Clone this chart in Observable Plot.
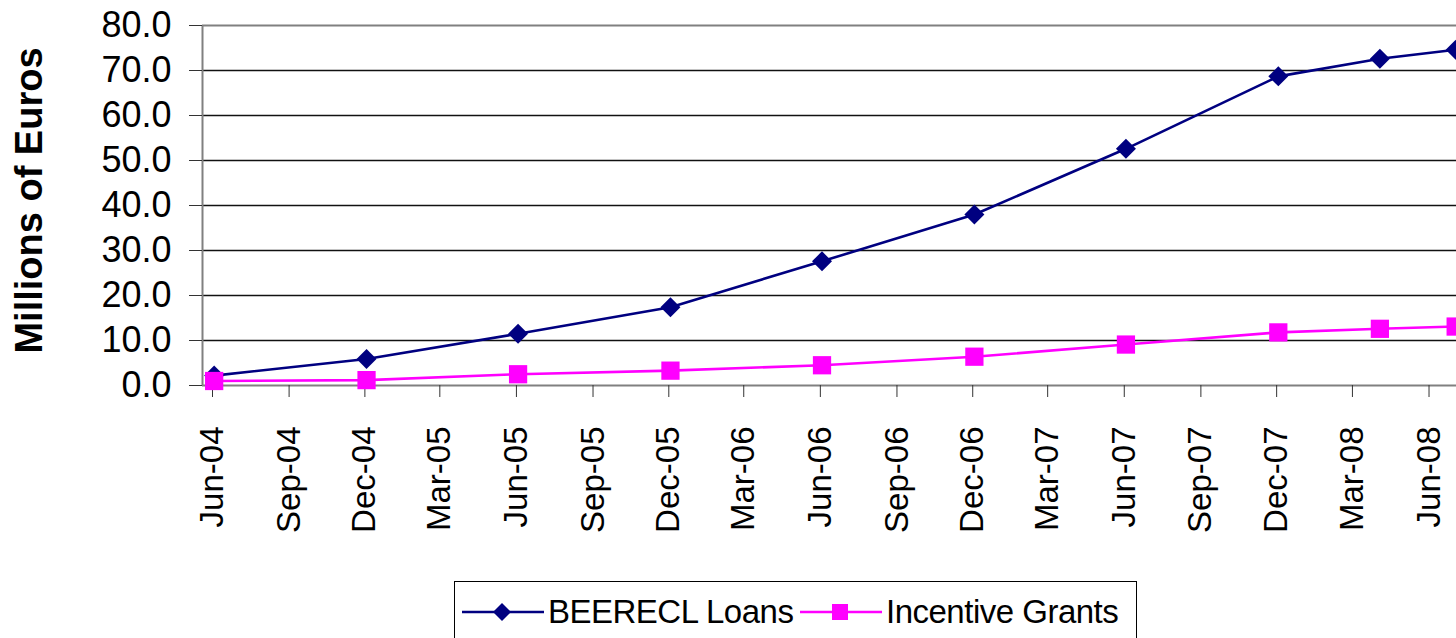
<!DOCTYPE html>
<html>
<head>
<meta charset="utf-8">
<script src="https://cdn.jsdelivr.net/npm/d3@7"></script>
<script src="https://cdn.jsdelivr.net/npm/@observablehq/plot@0.6"></script>
<style>
  html, body { margin: 0; padding: 0; background: #fff; overflow: hidden; }
  #wrap { position: relative; width: 1456px; height: 638px; }
  #legend {
    position: absolute; left: 454px; top: 581px; width: 683px; height: 70px;
    border: 1.5px solid #000; box-sizing: border-box; background: #fff;
    font-family: "Liberation Sans Narrow", "Liberation Sans", Arial, sans-serif;
    font-size: 33px; color: #000;
  }
  .item { position: absolute; top: 12px; display: flex; align-items: center; height: 36px; }
  .item span { margin-left: 4px; white-space: nowrap; letter-spacing: -0.5px; }
</style>
</head>
<body>
<div id="wrap">
  <div id="chart"></div>
  <div id="legend"></div>
</div>
<script>
// ---- data ----
const tickLabels = ["Jun-04","Sep-04","Dec-04","Mar-05","Jun-05","Sep-05","Dec-05","Mar-06",
                    "Jun-06","Sep-06","Dec-06","Mar-07","Jun-07","Sep-07","Dec-07","Mar-08","Jun-08"];
const pointDates = ["2004-06-15","2004-12-15","2005-06-15","2005-12-15","2006-06-15",
                    "2006-12-15","2007-06-15","2007-12-15","2008-04-15","2008-07-15"];
const loansValues  = [2.2, 5.9, 11.5, 17.4, 27.6, 38.0, 52.6, 68.7, 72.6, 74.6];
const grantsValues = [1.0, 1.2, 2.5, 3.3, 4.5, 6.4, 9.1, 11.8, 12.6, 13.1];
const yTicks = [0, 10, 20, 30, 40, 50, 60, 70, 80];
const seriesNames = ["BEERECL Loans", "Incentive Grants"];
const yTitle = "Millions of Euros";

// ---- build ----
const parseTick = d3.utcParse("%b-%y");
const tickDates = tickLabels.map(parseTick);
const dates = pointDates.map(d => d3.utcParse("%Y-%m-%d")(d));
const loans = dates.map((d, i) => ({date: d, value: loansValues[i]}));
const grants = dates.map((d, i) => ({date: d, value: grantsValues[i]}));
const labelOf = new Map(tickDates.map((d, i) => [+d, tickLabels[i]]));

const navy = "#000080", pink = "#FF00FF";
const font = "Liberation Sans, Arial, sans-serif";

const chart = Plot.plot({
  width: 1456,
  height: 575,
  marginLeft: 202,
  marginRight: 0,
  marginTop: 25,
  marginBottom: 190,
  style: {fontFamily: font, background: "#fff", color: "#000", overflow: "visible"},
  x: {type: "utc", domain: [new Date(Date.UTC(2004, 5, 1)), new Date(Date.UTC(2008, 6, 16))]},
  y: {domain: [0, 80]},
  marks: [
    Plot.gridY(yTicks.filter(t => t > 0 && t < 80), {stroke: "#111", strokeOpacity: 1, strokeWidth: 1.6}),
    Plot.ruleY([80], {stroke: "#808080", strokeWidth: 2}),
    Plot.ruleY([0], {stroke: "#808080", strokeWidth: 2}),
    Plot.ruleX([new Date(Date.UTC(2004, 5, 1))], {stroke: "#808080", strokeWidth: 2}),
    Plot.axisY({ticks: yTicks, tickFormat: d => d.toFixed(1), tickSize: 13, tickPadding: 18,
                fontSize: 36, stroke: "#333", label: null}),
    Plot.axisX({ticks: tickDates, tickFormat: d => labelOf.get(+d), tickRotate: -90,
                tickSize: 12, tickPadding: 29, fontSize: 33, stroke: "#333", dx: 10, label: null}),
    Plot.text([yTitle], {frameAnchor: "left", textAnchor: "middle", rotate: -90, dx: -173, dy: -5,
                fontSize: 38, fontWeight: "bold", fill: "#000"}),
    Plot.line(loans, {x: "date", y: "value", stroke: navy, strokeWidth: 2.6}),
    Plot.dot(loans, {x: "date", y: "value", symbol: "diamond2", r: 9, fill: navy, stroke: null}),
    Plot.line(grants, {x: "date", y: "value", stroke: pink, strokeWidth: 2.6}),
    Plot.dot(grants, {x: "date", y: "value", symbol: "square", r: 10.3, fill: pink, stroke: null})
  ]
});
document.getElementById("chart").appendChild(chart);

// ---- legend ----
const legend = document.getElementById("legend");
const items = [
  {name: seriesNames[0], color: navy, shape: "diamond", left: 7},
  {name: seriesNames[1], color: pink, shape: "square", left: 345}
];
for (const it of items) {
  const div = document.createElement("div");
  div.className = "item";
  div.style.left = it.left + "px";
  const marker = it.shape === "diamond"
    ? `<path d="M40,9 L49,18 L40,27 L31,18 Z" fill="${it.color}"/>`
    : `<rect x="32" y="10" width="16" height="16" fill="${it.color}"/>`;
  div.innerHTML = `<svg width="82" height="36"><line x1="0" x2="82" y1="18" y2="18" stroke="${it.color}" stroke-width="2.6"/>${marker}</svg><span>${it.name}</span>`;
  legend.appendChild(div);
}
</script>
</body>
</html>
